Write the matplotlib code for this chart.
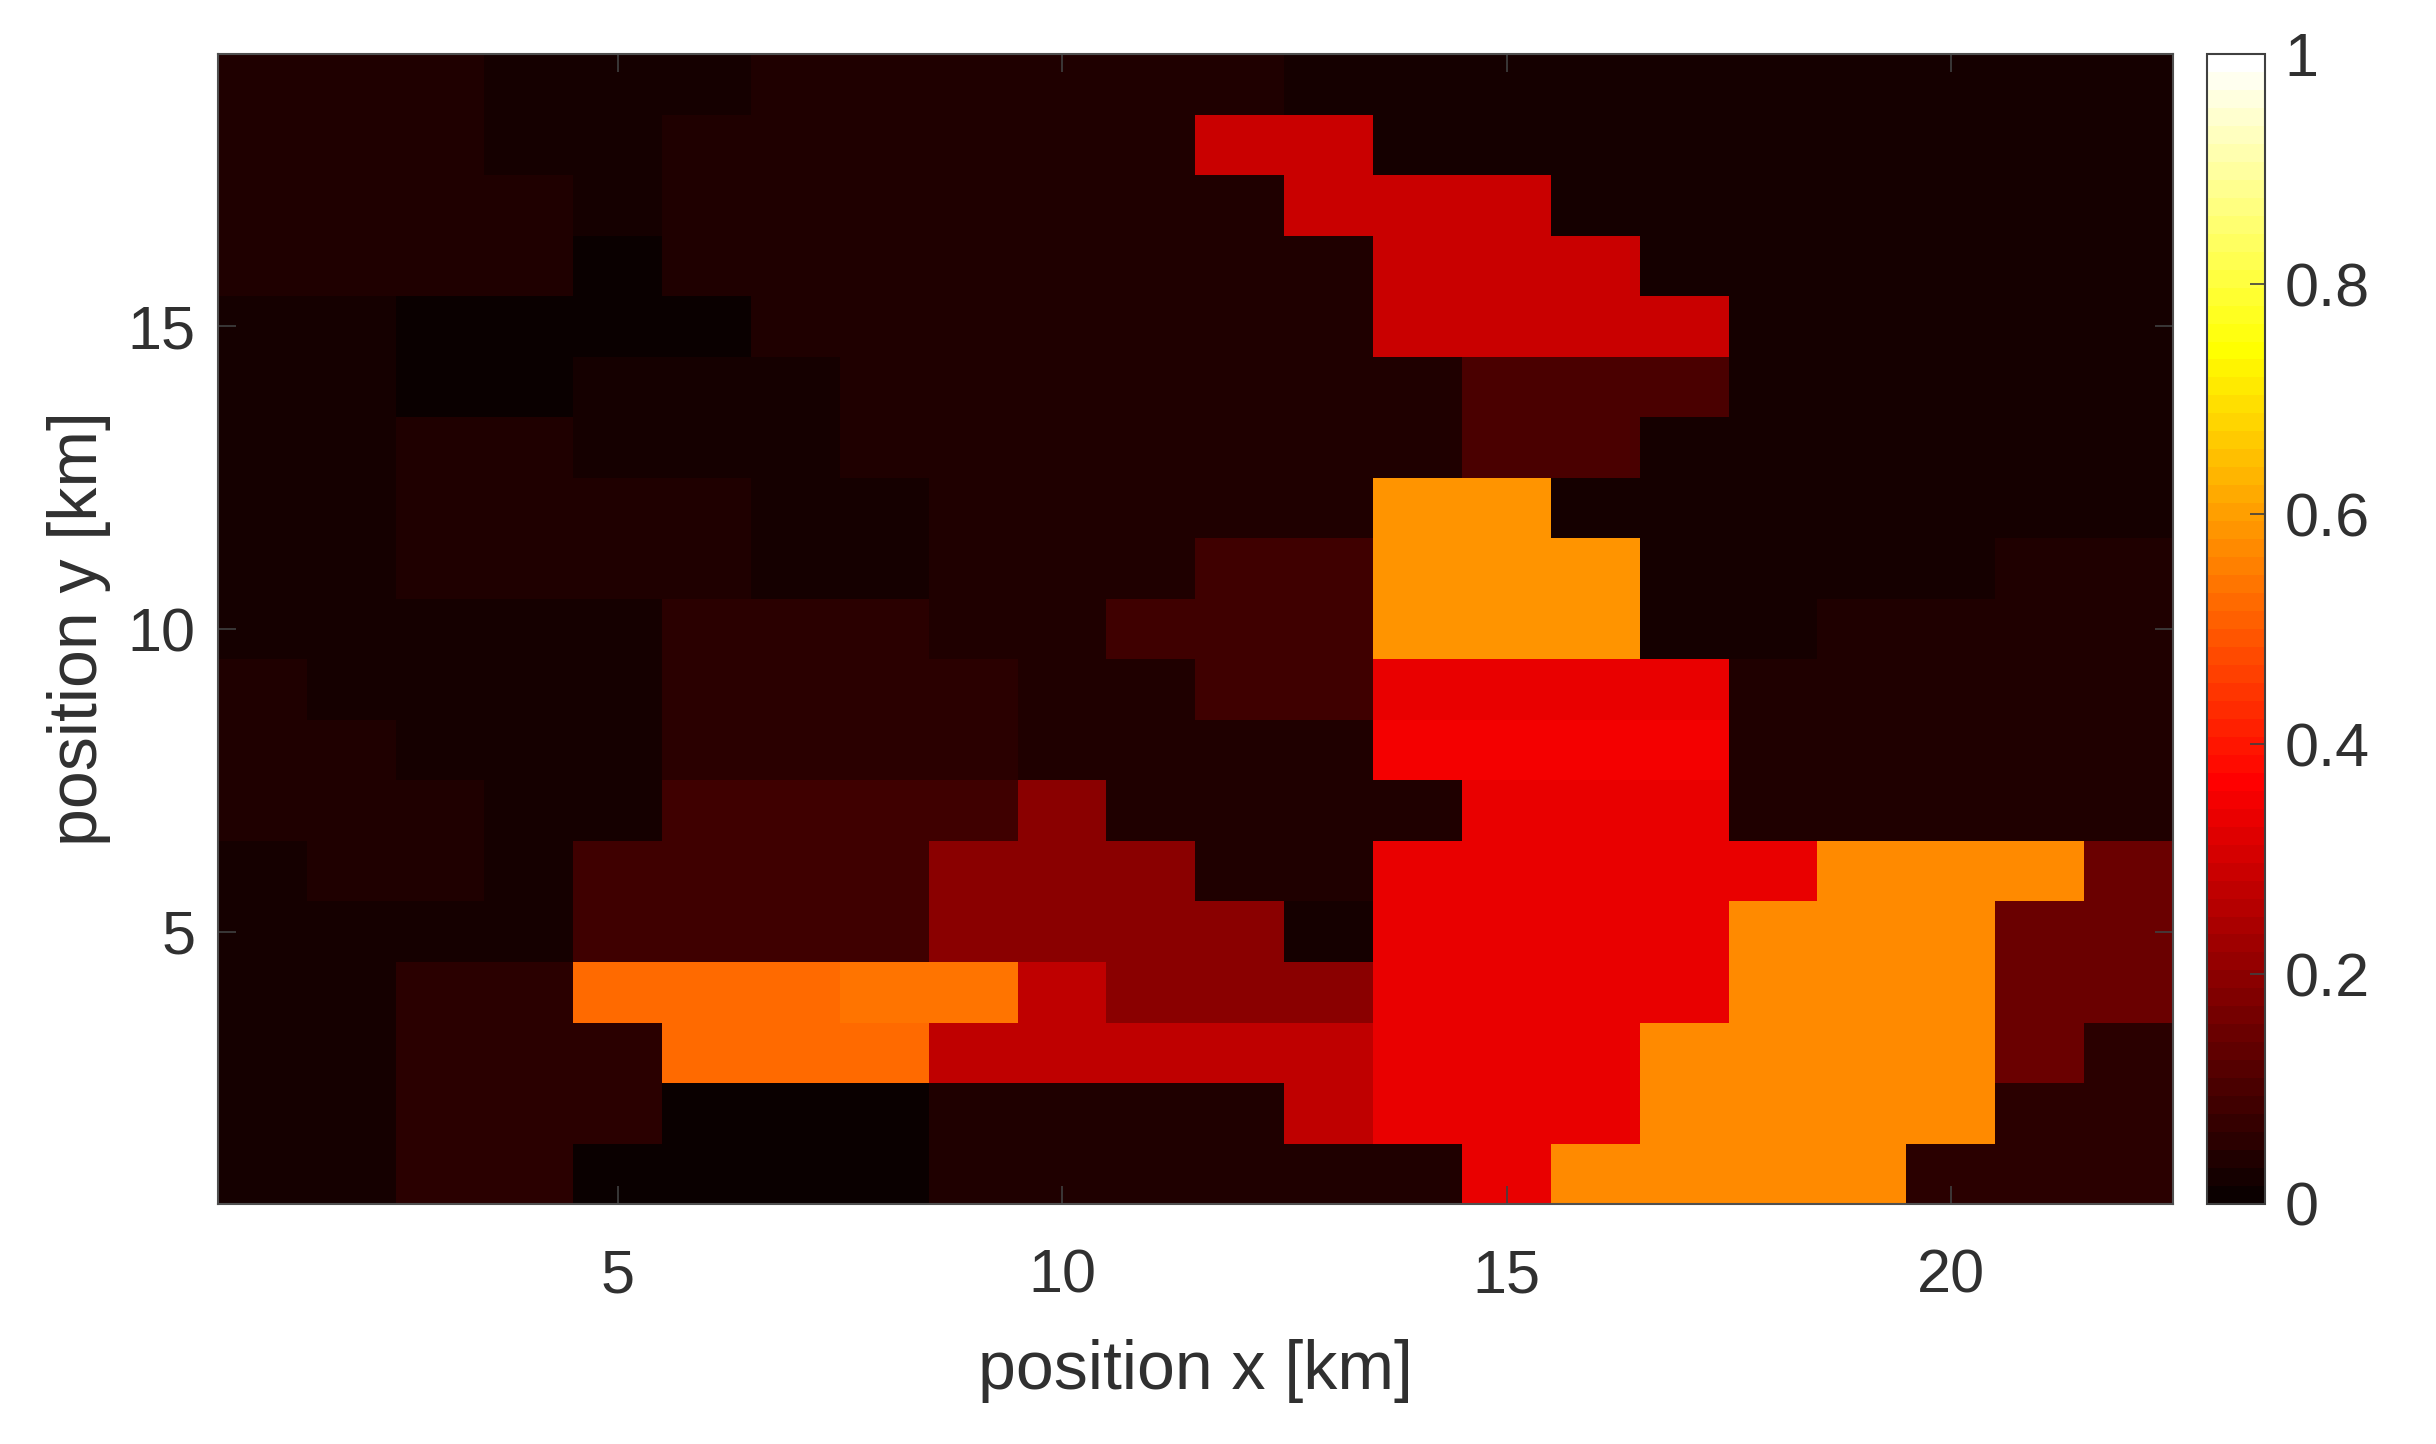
import matplotlib
matplotlib.use("Agg")
import matplotlib.pyplot as plt
from matplotlib.colors import ListedColormap
import numpy as np

# values, each name is one colour band of the map
A = 0.008
B = 0.023
C = 0.039
D = 0.055
E = 0.086
F = 0.102
G = 0.148
H = 0.195
I = 0.273
J = 0.289
K = 0.336
L = 0.352
M = 0.523
N = 0.539
O = 0.570
P = 0.586

# one row per y km, from y=1 up to y=19, columns are x=1..22
row_01 = [B, B, D, D, A, A, A, A, C, C, C, C, C, C, K, O, O, O, O, D, D, D]
row_02 = [B, B, D, D, D, A, A, A, C, C, C, C, I, K, K, K, O, O, O, O, D, D]
row_03 = [B, B, D, D, D, M, M, M, I, I, I, I, I, K, K, K, O, O, O, O, G, D]
row_04 = [B, B, D, D, M, M, M, N, N, I, H, H, H, K, K, K, K, O, O, O, G, G]
row_05 = [B, B, B, B, E, E, E, E, H, H, H, H, B, K, K, K, K, O, O, O, G, G]
row_06 = [B, C, C, B, E, E, E, E, H, H, H, C, C, K, K, K, K, K, O, O, O, G]
row_07 = [C, C, C, B, B, E, E, E, E, H, C, C, C, C, K, K, K, C, C, C, C, C]
row_08 = [C, C, B, B, B, D, D, D, D, C, C, C, C, L, L, L, L, C, C, C, C, C]
row_09 = [C, B, B, B, B, D, D, D, D, C, C, E, E, K, K, K, K, C, C, C, C, C]
row_10 = [B, B, B, B, B, D, D, D, C, C, E, E, E, P, P, P, B, B, C, C, C, C]
row_11 = [B, B, C, C, C, C, B, B, C, C, C, E, E, P, P, P, B, B, B, B, C, C]
row_12 = [B, B, C, C, C, C, B, B, C, C, C, C, C, P, P, B, B, B, B, B, B, B]
row_13 = [B, B, C, C, B, B, B, C, C, C, C, C, C, C, F, F, B, B, B, B, B, B]
row_14 = [B, B, A, A, B, B, B, C, C, C, C, C, C, C, F, F, F, B, B, B, B, B]
row_15 = [B, B, A, A, A, A, C, C, C, C, C, C, C, J, J, J, J, B, B, B, B, B]
row_16 = [C, C, C, C, A, C, C, C, C, C, C, C, C, J, J, J, B, B, B, B, B, B]
row_17 = [C, C, C, C, B, C, C, C, C, C, C, C, J, J, J, B, B, B, B, B, B, B]
row_18 = [C, C, C, B, B, C, C, C, C, C, C, J, J, B, B, B, B, B, B, B, B, B]
row_19 = [C, C, C, B, B, B, C, C, C, C, C, C, B, B, B, B, B, B, B, B, B, B]

x_ticks = [5, 10, 15, 20]
y_ticks = [5, 10, 15]
cbar_ticks = [0, 0.2, 0.4, 0.6, 0.8, 1]
cbar_labels = ["0", "0.2", "0.4", "0.6", "0.8", "1"]


def hot64():
    # same 64 steps as the stepped colorbar in the picture
    steps = np.arange(1, 65)
    red = np.clip(steps / 24, 0, 1)
    green = np.clip((steps - 24) / 24, 0, 1)
    blue = np.clip((steps - 48) / 16, 0, 1)
    return ListedColormap(np.column_stack([red, green, blue]))


def main():
    plt.rcParams["font.family"] = ["Liberation Sans", "DejaVu Sans"]
    text_color = "#303030"
    tick_size = 44
    label_size = 49
    W, H_px = 2436, 1444

    grid = np.array([
        row_01, row_02, row_03, row_04, row_05, row_06, row_07, row_08, row_09, row_10,
        row_11, row_12, row_13, row_14, row_15, row_16, row_17, row_18, row_19,
    ])

    fig = plt.figure(figsize=(W / 100, H_px / 100), dpi=100)
    ax = fig.add_axes([218 / W, 1 - 1204 / H_px, (2173 - 218) / W, (1204 - 54) / H_px])
    cax = fig.add_axes([2207 / W, 1 - 1204 / H_px, (2265 - 2207) / W, (1204 - 54) / H_px])

    im = ax.imshow(grid, origin="lower", aspect="auto", cmap=hot64(), vmin=0, vmax=1,
                   interpolation="nearest", extent=(0.5, 22.5, 0.5, 19.5))
    ax.set_xticks(x_ticks)
    ax.set_yticks(y_ticks)
    ax.tick_params(direction="in", length=13, width=1.2, color="#404040", top=True, right=True,
                   labelsize=tick_size, labelcolor=text_color)
    ax.tick_params(axis="x", pad=32)
    ax.tick_params(axis="y", pad=16)
    ax.set_xlabel("position x [km]", fontsize=label_size, color=text_color)
    ax.set_ylabel("position y [km]", fontsize=label_size, color=text_color)
    ax.xaxis.set_label_coords(0.5, -0.117)
    ax.yaxis.set_label_coords(-0.0545, 0.5)

    cb = fig.colorbar(im, cax=cax, ticks=cbar_ticks)
    cb.ax.set_yticklabels(cbar_labels)
    cb.ax.tick_params(direction="in", length=11, width=1.2, color="#404040",
                      labelsize=tick_size, labelcolor=text_color, pad=14)
    cb.outline.set_edgecolor("#404040")
    cb.outline.set_linewidth(1.5)

    for spine in ax.spines.values():
        spine.set_edgecolor("#505050")
        spine.set_linewidth(1.5)

    fig.savefig("out.png", dpi=100)
    plt.close(fig)


if __name__ == "__main__":
    main()
